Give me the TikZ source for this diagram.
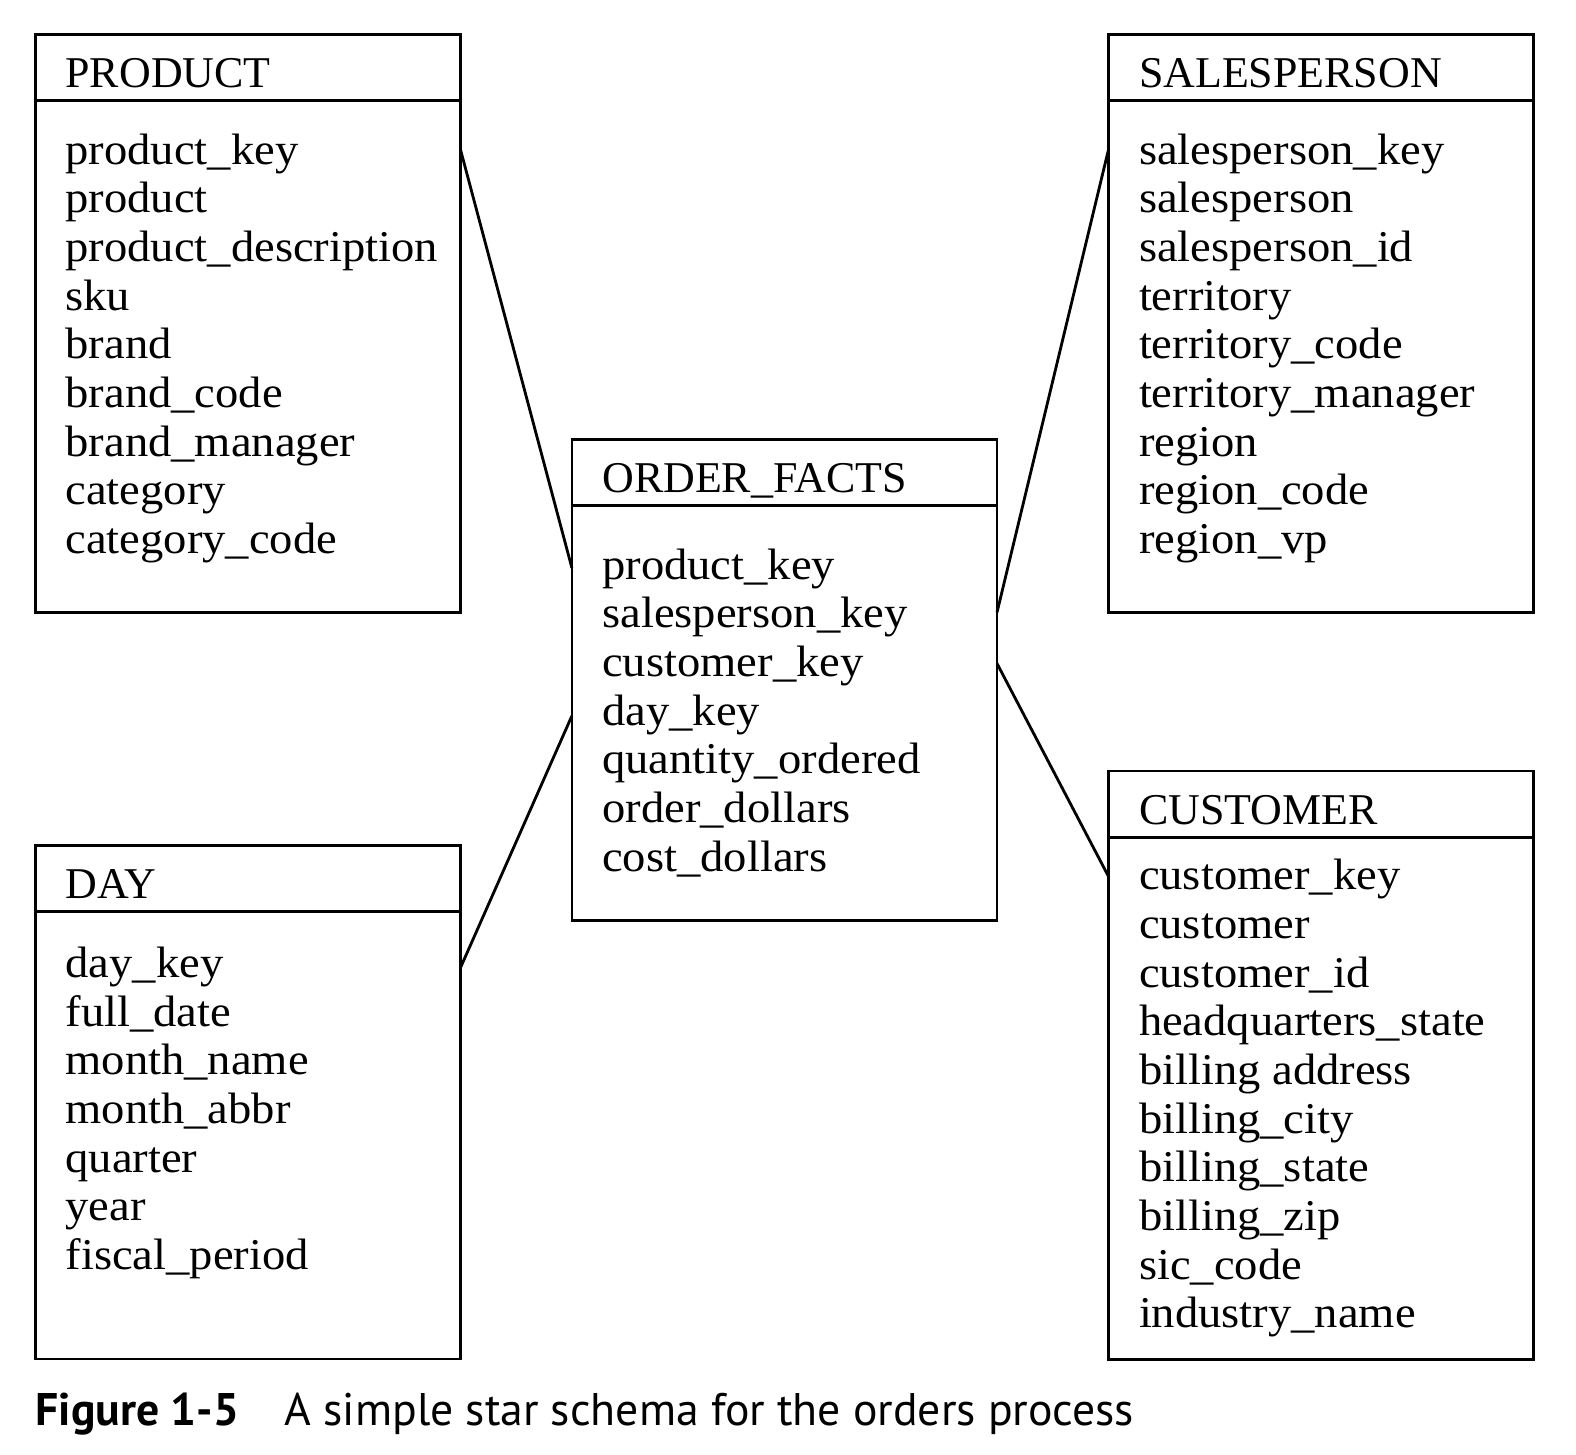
\documentclass[tikz,border=0pt]{standalone}
\usepackage{fontspec}
\setmainfont{Liberation Serif}[FakeStretch=1.06]
\newfontfamily\ttlfont{Liberation Serif}
\newfontfamily\capfont{PT Sans}
\usetikzlibrary{positioning}

\tikzset{
  tbl/.style={draw, line width=1.6pt, anchor=north west, inner sep=0pt, outer sep=0pt, minimum width=8.5cm},
  tblhead/.style={tbl, minimum height=1.33cm},
  ttl/.style={anchor=base west, inner sep=0pt, font=\ttlfont\fontsize{25}{28}\selectfont},
  fld/.style={anchor=base west, inner sep=0pt, font=\fontsize{25}{28}\selectfont},
  link/.style={line width=1.6pt},
  capt/.style={anchor=base west, inner sep=0pt, font=\capfont\fontsize{26}{30}\selectfont}
}

\begin{document}
\begin{tikzpicture}[x=0.0201cm, y=-0.0201cm]
\useasboundingbox (0,0) rectangle (1568,1447);

%%% PRODUCT
\node[tblhead] (prodh) at (35,34) {};
\node[tbl, minimum height=10.23cm, below=0pt of prodh] (prod) {};
\node[ttl] (prodt) at ([xshift=.6cm,yshift=-1.065cm]prodh.north west) {PRODUCT};
\foreach \f [count=\i] in {product\_key,product,product\_description,sku,brand,brand\_code,brand\_manager,category,category\_code}
  \node[fld] (prod\i) at ([xshift=.6cm,yshift={-1.27cm-(\i-1)*0.973cm}]prod.north west) {\f};

%%% SALESPERSON
\node[tblhead] (salesh) at (1103,34) {};
\node[tbl, minimum height=10.23cm, below=0pt of salesh] (sales) {};
\node[ttl] (salest) at ([xshift=.6cm,yshift=-1.065cm]salesh.north west) {SALESPERSON};
\foreach \f [count=\i] in {salesperson\_key,salesperson,salesperson\_id,territory,territory\_code,territory\_manager,region,region\_code,region\_vp}
  \node[fld] (sales\i) at ([xshift=.6cm,yshift={-1.27cm-(\i-1)*0.973cm}]sales.north west) {\f};

%%% ORDER_FACTS
\node[tblhead] (factsh) at (569,437) {};
\node[tbl, minimum height=8.3cm, below=0pt of factsh] (facts) {};
\node[ttl] (factst) at ([xshift=.6cm,yshift=-1.065cm]factsh.north west) {ORDER\_FACTS};
\foreach \f [count=\i] in {product\_key,salesperson\_key,customer\_key,day\_key,quantity\_ordered,order\_dollars,cost\_dollars}
  \node[fld] (facts\i) at ([xshift=.6cm,yshift={-1.47cm-(\i-1)*0.973cm}]facts.north west) {\f};

%%% DAY
\node[tblhead] (dayh) at (35,841) {};
\node[tbl, minimum height=8.94cm, below=0pt of dayh] (day) {};
\node[ttl] (dayt) at ([xshift=.6cm,yshift=-1.065cm]dayh.north west) {DAY};
\foreach \f [count=\i] in {day\_key,full\_date,month\_name,month\_abbr,quarter,year,fiscal\_period}
  \node[fld] (day\i) at ([xshift=.6cm,yshift={-1.31cm-(\i-1)*0.973cm}]day.north west) {\f};

%%% CUSTOMER
\node[tblhead] (custh) at (1103,767) {};
\node[tbl, minimum height=10.43cm, below=0pt of custh] (cust) {};
\node[ttl] (custt) at ([xshift=.6cm,yshift=-1.065cm]custh.north west) {CUSTOMER};
\foreach \f [count=\i] in {customer\_key,customer,customer\_id,headquarters\_state,billing address,billing\_city,billing\_state,billing\_zip,sic\_code,industry\_name}
  \node[fld] (cust\i) at ([xshift=.6cm,yshift={-1.045cm-(\i-1)*0.973cm}]cust.north west) {\f};

%%% star links
\draw[link] ([yshift=-0.965cm]prod.north east) -- ([yshift=-1.245cm]facts.north west);
\draw[link] ([yshift=-0.965cm]sales.north west) -- ([yshift=-2.13cm]facts.north east);
\draw[link] ([yshift=-3.155cm]facts.north east) -- ([yshift=-0.785cm]cust.north west);
\draw[link] ([yshift=-4.2cm]facts.north west) -- ([yshift=-1.125cm]day.north east);

%%% caption
\node[capt] (figno) at (35,1418) {\bfseries Figure 1-5};
\node[capt] (figtxt) at (283,1418) {A simple star schema for the orders process};
\end{tikzpicture}
\end{document}
